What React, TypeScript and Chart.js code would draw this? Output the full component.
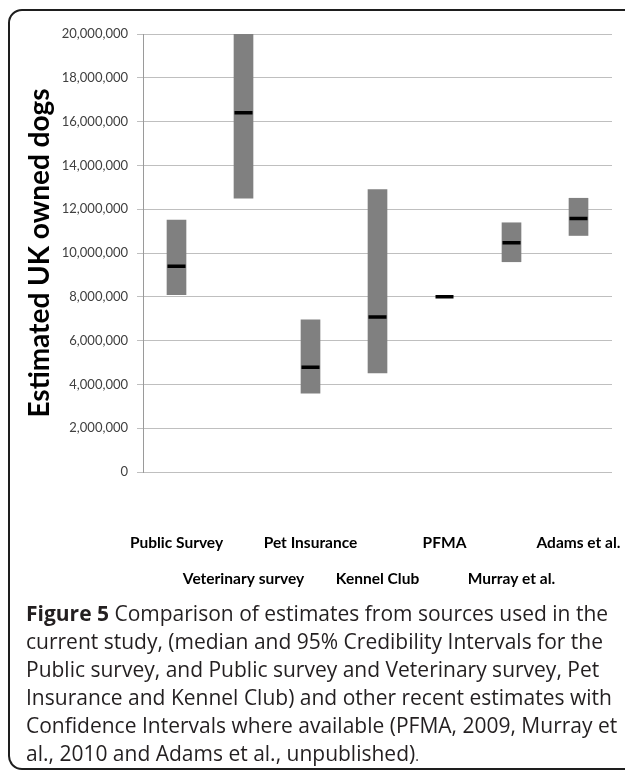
import React, { useEffect, useRef } from "react";
import { Chart, registerables } from "chart.js";

Chart.register(...registerables);

const categories = [
  "Public Survey",
  "Veterinary survey",
  "Pet Insurance",
  "Kennel Club",
  "PFMA",
  "Murray et al.",
  "Adams et al.",
];
const lowerBounds: (number | null)[] = [8100000, 12500000, 3600000, 4520000, null, 9600000, 10800000];
const upperBounds: (number | null)[] = [11500000, 20000000, 6950000, 12900000, null, 11380000, 12500000];
const medians = [9400000, 16400000, 4780000, 7080000, 8000000, 10470000, 11580000];
const yMin = 0;
const yMax = 20000000;
const yStep = 2000000;
const yTitle = "Estimated UK owned dogs";

const captionLines = [
  "Comparison of estimates from sources used in the",
  "current study, (median and 95% Credibility Intervals for the",
  "Public survey, and Public survey and Veterinary survey, Pet",
  "Insurance and Kennel Club) and other recent estimates with",
  "Confidence Intervals where available (PFMA, 2009, Murray et",
  "al., 2010 and Adams et al., unpublished)",
];

export default function App() {
  const ref = useRef<HTMLCanvasElement | null>(null);

  useEffect(() => {
    if (!ref.current) return;
    const intervals = categories.map((_, i) =>
      lowerBounds[i] == null || upperBounds[i] == null ? null : [lowerBounds[i], upperBounds[i]]
    );
    const chart = new Chart(ref.current, {
      type: "bar",
      data: {
        labels: categories,
        datasets: [
          {
            type: "line",
            label: "Median",
            data: medians,
            showLine: false,
            pointStyle: "line",
            pointRadius: 9,
            pointHoverRadius: 9,
            pointBorderWidth: 3.5,
            pointBorderColor: "#000000",
            borderColor: "#000000",
            order: 0,
          } as any,
          {
            type: "bar",
            label: "Interval",
            data: intervals as any,
            backgroundColor: "#808080",
            borderWidth: 0,
            barThickness: 19,
            order: 1,
          },
        ],
      },
      options: {
        animation: false,
        responsive: false,
        maintainAspectRatio: false,
        layout: { padding: { top: 34, right: 13, left: 0, bottom: 0 } },
        plugins: {
          legend: { display: false },
          tooltip: { enabled: false },
        },
        scales: {
          x: {
            type: "category",
            offset: true,
            grid: { display: false, drawTicks: false },
            border: { display: false },
            afterFit: (s: any) => {
              s.height = 130;
              s.paddingLeft = 0;
              s.paddingRight = 0;
            },
            ticks: {
              autoSkip: false,
              maxRotation: 0,
              minRotation: 0,
              padding: 53,
              color: "#000000",
              font: { family: "Lato", size: 15.5, weight: "bold", lineHeight: 2.32 },
              callback: (_v: any, i: number) => (i % 2 === 0 ? categories[i] : ["", categories[i]]),
            },
          },
          y: {
            min: yMin,
            max: yMax,
            afterFit: (s: any) => {
              s.width = 143;
            },
            grid: { color: "#bfbfbf", lineWidth: 1, tickLength: 6, drawTicks: true },
            border: { display: true, color: "#9a9a9a", width: 1 },
            ticks: {
              stepSize: yStep,
              padding: 9,
              color: "#404040",
              font: { family: "Lato", size: 13 },
              callback: (v: any) => Number(v).toLocaleString("en-US"),
            },
            title: {
              display: true,
              text: yTitle,
              color: "#000000",
              font: { family: "Lato", size: 28, weight: "bold", lineHeight: 1.2 },
              padding: { top: 23, bottom: 0 },
            },
          },
        },
      },
    });
    return () => chart.destroy();
  }, []);

  return (
    <div
      style={{
        position: "absolute",
        left: 0,
        top: 0,
        width: 625,
        height: 770,
        overflow: "hidden",
        background: "#ffffff",
      }}
    >
      <div
        style={{
          position: "absolute",
          left: 8,
          top: 9,
          width: 680,
          height: 757,
          border: "2px solid #1e1e1e",
          borderRadius: 14,
        }}
      />
      <canvas
        ref={ref}
        width={625}
        height={602}
        style={{ position: "absolute", left: 0, top: 0, width: 625, height: 602 }}
      />
      <div
        style={{
          position: "absolute",
          left: 26,
          top: 599,
          fontFamily: "'Open Sans', sans-serif",
          fontSize: 21,
          lineHeight: "28px",
          color: "#231f20",
          whiteSpace: "nowrap",
        }}
      >
        {captionLines.map((line, i) => (
          <div key={i}>
            {i === 0 ? <b>Figure 5 </b> : null}
            {line}
            {i === captionLines.length - 1 ? <span style={{ fontSize: 14 }}>.</span> : null}
          </div>
        ))}
      </div>
    </div>
  );
}
